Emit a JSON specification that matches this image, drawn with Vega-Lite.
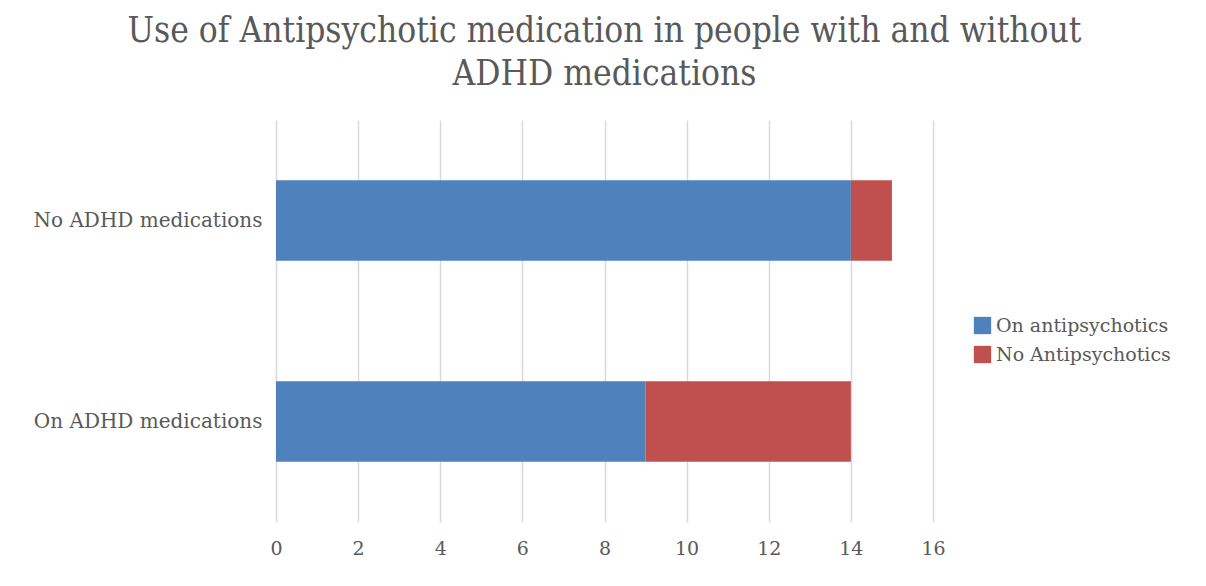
{
  "$schema": "https://vega.github.io/schema/vega-lite/v6.json",
  "width": 657,
  "height": 402,
  "autosize": "none",
  "padding": {"left": 276, "top": 120, "right": 273, "bottom": 64},
  "background": "white",
  "title": {
    "text": ["Use of Antipsychotic medication in people with and without", "ADHD medications"],
    "font": "DejaVu Serif Condensed, Liberation Serif, serif",
    "fontSize": 35,
    "fontWeight": "normal",
    "color": "#595959",
    "anchor": "middle",
    "frame": "group",
    "lineHeight": 43,
    "offset": 28
  },
  "data": {
    "values": [
      {"group": "No ADHD medications", "series": "On antipsychotics", "value": 14, "rank": 1},
      {"group": "No ADHD medications", "series": "No Antipsychotics", "value": 1, "rank": 2},
      {"group": "On ADHD medications", "series": "On antipsychotics", "value": 9, "rank": 1},
      {"group": "On ADHD medications", "series": "No Antipsychotics", "value": 5, "rank": 2}
    ]
  },
  "mark": {"type": "bar"},
  "encoding": {
    "y": {
      "field": "group",
      "type": "nominal",
      "sort": ["No ADHD medications", "On ADHD medications"],
      "scale": {"paddingInner": 0.6, "paddingOuter": 0.3},
      "axis": {
        "title": null,
        "domain": false,
        "ticks": false,
        "labelPadding": 14,
        "labelLimit": 0,
        "labelFont": "DejaVu Serif, serif",
        "labelFontSize": 20,
        "labelColor": "#595959"
      }
    },
    "x": {
      "field": "value",
      "type": "quantitative",
      "stack": "zero",
      "scale": {"domain": [0, 16], "nice": false},
      "axis": {
        "title": null,
        "values": [0, 2, 4, 6, 8, 10, 12, 14, 16],
        "domain": false,
        "ticks": false,
        "labelFlush": false,
        "labelPadding": 17,
        "labelFont": "DejaVu Serif, serif",
        "labelFontSize": 19,
        "labelColor": "#595959",
        "gridColor": "#d9d9d9",
        "gridWidth": 1.5
      }
    },
    "color": {
      "field": "series",
      "type": "nominal",
      "sort": ["On antipsychotics", "No Antipsychotics"],
      "scale": {"domain": ["On antipsychotics", "No Antipsychotics"], "range": ["#4F81BD", "#C0504D"]},
      "legend": {
        "title": null,
        "orient": "none",
        "legendX": 697,
        "legendY": 196,
        "symbolType": "square",
        "symbolSize": 300,
        "symbolStrokeWidth": 0,
        "symbolOpacity": 1,
        "labelFont": "DejaVu Serif, serif",
        "labelFontSize": 19,
        "labelLimit": 0,
        "labelColor": "#595959",
        "labelOffset": 4,
        "rowPadding": 9
      }
    },
    "order": {"field": "rank", "type": "quantitative"}
  },
  "config": {"view": {"stroke": null}}
}
